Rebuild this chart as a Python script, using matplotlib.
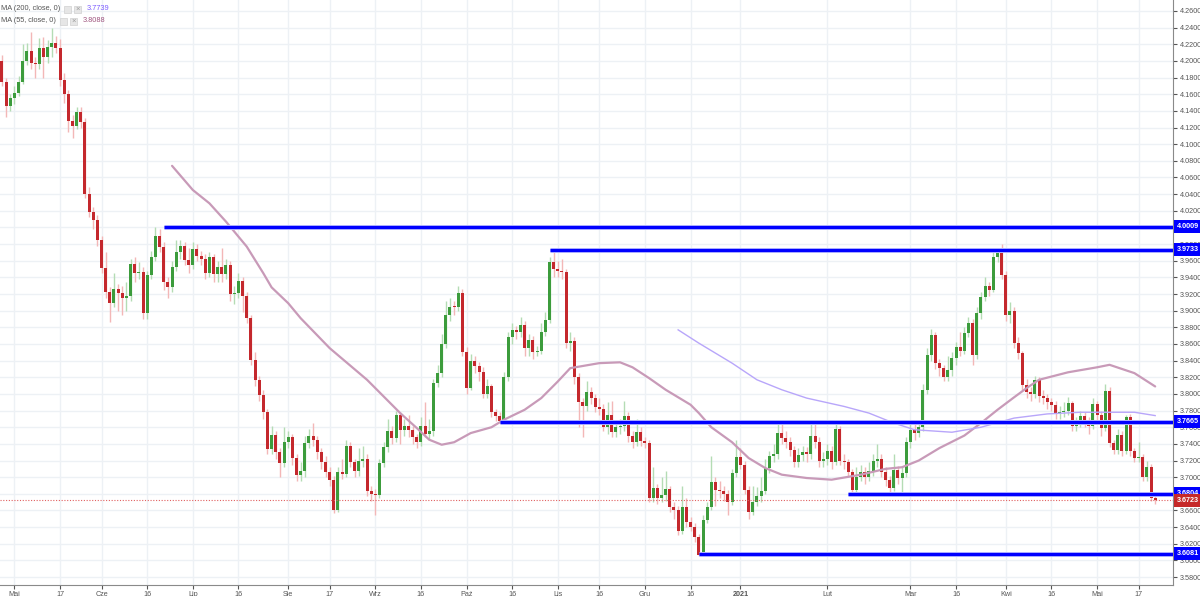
import matplotlib
matplotlib.use('Agg')
import matplotlib.pyplot as plt
import matplotlib.patches as mpatches
import numpy as np
import pandas as pd

plt.rcParams['font.family'] = ['Liberation Sans', 'DejaVu Sans']

# daily candles, USD/PLN-like
first_open = 4.200
closes = [
    4.175, 4.146, 4.155, 4.162, 4.175, 4.200, 4.212, 4.198, 4.196, 4.215,
    4.205, 4.217, 4.222, 4.215, 4.177, 4.160, 4.128, 4.122, 4.139, 4.127,
    4.040, 4.019, 4.009, 3.985, 3.951, 3.922, 3.909, 3.926, 3.921, 3.915,
    3.918, 3.956, 3.945, 3.947, 3.897, 3.943, 3.965, 3.990, 3.977, 3.935,
    3.929, 3.952, 3.970, 3.978, 3.961, 3.955, 3.974, 3.966, 3.962, 3.945,
    3.965, 3.944, 3.952, 3.944, 3.955, 3.920, 3.921, 3.936, 3.918, 3.891,
    3.841, 3.817, 3.799, 3.778, 3.734, 3.751, 3.730, 3.717, 3.742, 3.748,
    3.723, 3.703, 3.707, 3.741, 3.750, 3.745, 3.730, 3.718, 3.706, 3.697,
    3.661, 3.706, 3.704, 3.737, 3.718, 3.707, 3.720, 3.722, 3.683, 3.680,
    3.679, 3.717, 3.736, 3.756, 3.747, 3.775, 3.757, 3.762, 3.757, 3.748,
    3.742, 3.762, 3.752, 3.755, 3.813, 3.825, 3.860, 3.895, 3.905, 3.904,
    3.921, 3.850, 3.807, 3.840, 3.833, 3.826, 3.800, 3.809, 3.778, 3.774,
    3.768, 3.820, 3.868, 3.877, 3.874, 3.883, 3.855, 3.865, 3.850, 3.851,
    3.875, 3.889, 3.958, 3.950, 3.948, 3.947, 3.861, 3.864, 3.820, 3.790,
    3.785, 3.802, 3.795, 3.784, 3.782, 3.760, 3.775, 3.754, 3.760, 3.761,
    3.773, 3.749, 3.742, 3.754, 3.743, 3.741, 3.675, 3.687, 3.675, 3.679,
    3.686, 3.664, 3.660, 3.635, 3.664, 3.646, 3.640, 3.628, 3.607, 3.649,
    3.664, 3.694, 3.685, 3.683, 3.680, 3.670, 3.705, 3.724, 3.715, 3.685,
    3.658, 3.670, 3.678, 3.684, 3.711, 3.725, 3.728, 3.753, 3.747, 3.742,
    3.733, 3.718, 3.727, 3.730, 3.728, 3.750, 3.742, 3.720, 3.722, 3.732,
    3.718, 3.758, 3.720, 3.718, 3.706, 3.685, 3.700, 3.706, 3.700, 3.707,
    3.720, 3.722, 3.706, 3.697, 3.687, 3.709, 3.699, 3.705, 3.742, 3.757,
    3.753, 3.760, 3.805, 3.847, 3.871, 3.837, 3.831, 3.820, 3.829, 3.843,
    3.856, 3.852, 3.873, 3.885, 3.847, 3.897, 3.917, 3.930, 3.925, 3.964,
    3.969, 3.943, 3.895, 3.900, 3.861, 3.849, 3.811, 3.802, 3.800, 3.817,
    3.797, 3.795, 3.790, 3.787, 3.777, 3.778, 3.780, 3.789, 3.761, 3.765,
    3.774, 3.767, 3.761, 3.788, 3.775, 3.759, 3.804, 3.741, 3.733, 3.751,
    3.731, 3.772, 3.731, 3.723, 3.724, 3.700, 3.712, 3.675, 3.6723]
highs = [
    4.207, 4.180, 4.160, 4.170, 4.182, 4.220, 4.222, 4.235, 4.205, 4.228,
    4.229, 4.225, 4.240, 4.230, 4.226, 4.185, 4.165, 4.135, 4.145, 4.145,
    4.132, 4.048, 4.025, 4.015, 3.990, 3.970, 3.928, 3.945, 3.932, 3.930,
    3.935, 3.962, 3.965, 3.958, 3.952, 3.948, 3.972, 4.000, 3.998, 3.982,
    3.940, 3.960, 3.985, 3.985, 3.982, 3.975, 3.982, 3.980, 3.972, 3.968,
    3.970, 3.968, 3.960, 3.975, 3.962, 3.960, 3.930, 3.945, 3.940, 3.922,
    3.895, 3.850, 3.822, 3.805, 3.782, 3.762, 3.755, 3.735, 3.760, 3.755,
    3.752, 3.728, 3.718, 3.750, 3.758, 3.765, 3.750, 3.735, 3.725, 3.712,
    3.702, 3.712, 3.722, 3.745, 3.742, 3.722, 3.735, 3.738, 3.728, 3.690,
    3.686, 3.722, 3.742, 3.770, 3.762, 3.780, 3.778, 3.770, 3.775, 3.762,
    3.752, 3.772, 3.790, 3.770, 3.818, 3.835, 3.872, 3.912, 3.915, 3.912,
    3.930, 3.926, 3.856, 3.848, 3.845, 3.838, 3.832, 3.818, 3.812, 3.782,
    3.778, 3.826, 3.875, 3.885, 3.882, 3.892, 3.888, 3.872, 3.870, 3.858,
    3.885, 3.898, 3.965, 3.973, 3.960, 3.962, 3.950, 3.875, 3.868, 3.825,
    3.795, 3.815, 3.808, 3.800, 3.795, 3.788, 3.790, 3.792, 3.768, 3.770,
    3.792, 3.778, 3.755, 3.770, 3.760, 3.748, 3.745, 3.712, 3.692, 3.700,
    3.708, 3.690, 3.670, 3.665, 3.690, 3.675, 3.652, 3.645, 3.632, 3.655,
    3.670, 3.725, 3.700, 3.695, 3.690, 3.685, 3.710, 3.745, 3.735, 3.720,
    3.690, 3.690, 3.688, 3.700, 3.722, 3.732, 3.740, 3.765, 3.768, 3.755,
    3.748, 3.738, 3.735, 3.738, 3.736, 3.768, 3.768, 3.748, 3.730, 3.740,
    3.737, 3.768, 3.762, 3.728, 3.722, 3.710, 3.712, 3.715, 3.712, 3.718,
    3.728, 3.740, 3.728, 3.712, 3.702, 3.728, 3.714, 3.712, 3.748, 3.768,
    3.765, 3.768, 3.812, 3.855, 3.878, 3.875, 3.842, 3.835, 3.845, 3.850,
    3.862, 3.875, 3.880, 3.892, 3.890, 3.905, 3.922, 3.940, 3.935, 3.970,
    3.975, 3.980, 3.948, 3.910, 3.905, 3.868, 3.852, 3.818, 3.808, 3.822,
    3.820, 3.805, 3.800, 3.795, 3.792, 3.785, 3.790, 3.796, 3.792, 3.772,
    3.780, 3.778, 3.772, 3.795, 3.792, 3.780, 3.812, 3.808, 3.745, 3.758,
    3.755, 3.775, 3.776, 3.735, 3.742, 3.728, 3.720, 3.716, 3.678]
lows = [
    4.170, 4.133, 4.140, 4.148, 4.158, 4.172, 4.195, 4.190, 4.180, 4.190,
    4.180, 4.198, 4.205, 4.210, 4.170, 4.150, 4.115, 4.108, 4.118, 4.120,
    4.035, 4.012, 3.998, 3.978, 3.945, 3.915, 3.886, 3.905, 3.900, 3.895,
    3.900, 3.912, 3.935, 3.938, 3.890, 3.890, 3.938, 3.960, 3.970, 3.925,
    3.915, 3.922, 3.948, 3.962, 3.955, 3.945, 3.950, 3.960, 3.955, 3.938,
    3.940, 3.935, 3.935, 3.935, 3.938, 3.912, 3.908, 3.915, 3.898, 3.885,
    3.835, 3.810, 3.792, 3.770, 3.728, 3.728, 3.722, 3.700, 3.712, 3.735,
    3.715, 3.695, 3.695, 3.700, 3.735, 3.738, 3.722, 3.710, 3.700, 3.690,
    3.657, 3.658, 3.698, 3.700, 3.712, 3.700, 3.702, 3.712, 3.678, 3.672,
    3.655, 3.675, 3.712, 3.730, 3.740, 3.742, 3.740, 3.750, 3.748, 3.740,
    3.735, 3.738, 3.748, 3.745, 3.750, 3.808, 3.820, 3.855, 3.888, 3.895,
    3.900, 3.845, 3.800, 3.805, 3.825, 3.815, 3.795, 3.795, 3.772, 3.768,
    3.765, 3.766, 3.815, 3.860, 3.866, 3.868, 3.845, 3.846, 3.842, 3.845,
    3.848, 3.870, 3.885, 3.940, 3.940, 3.938, 3.855, 3.852, 3.812, 3.760,
    3.748, 3.780, 3.788, 3.778, 3.775, 3.755, 3.752, 3.748, 3.748, 3.752,
    3.755, 3.742, 3.735, 3.738, 3.738, 3.735, 3.670, 3.670, 3.668, 3.670,
    3.672, 3.658, 3.650, 3.630, 3.632, 3.640, 3.635, 3.622, 3.605, 3.606,
    3.645, 3.660, 3.665, 3.675, 3.672, 3.655, 3.666, 3.700, 3.710, 3.680,
    3.650, 3.655, 3.665, 3.670, 3.680, 3.705, 3.718, 3.722, 3.740, 3.735,
    3.725, 3.712, 3.712, 3.720, 3.718, 3.722, 3.735, 3.712, 3.712, 3.715,
    3.710, 3.715, 3.715, 3.710, 3.700, 3.680, 3.682, 3.695, 3.692, 3.695,
    3.702, 3.712, 3.700, 3.690, 3.682, 3.684, 3.692, 3.680, 3.700, 3.735,
    3.745, 3.748, 3.756, 3.800, 3.840, 3.830, 3.822, 3.815, 3.815, 3.822,
    3.835, 3.845, 3.848, 3.868, 3.835, 3.842, 3.890, 3.912, 3.918, 3.922,
    3.958, 3.938, 3.888, 3.885, 3.855, 3.842, 3.805, 3.795, 3.792, 3.795,
    3.790, 3.788, 3.782, 3.780, 3.770, 3.770, 3.772, 3.775, 3.755, 3.755,
    3.760, 3.760, 3.752, 3.758, 3.768, 3.750, 3.755, 3.736, 3.728, 3.728,
    3.725, 3.728, 3.725, 3.718, 3.718, 3.695, 3.696, 3.671, 3.668]

# moving averages (bar number, value)
ma55_bar = [41, 46, 50, 54, 59, 63, 65, 69, 72, 79,
            88, 94, 96, 100, 103, 106, 109, 113, 118, 121,
            126, 130, 134, 137, 144, 149, 152, 156, 160, 166,
            168, 171, 176, 180, 184, 188, 194, 200, 207, 213,
            217, 221, 226, 232, 236, 240, 244, 247, 250, 257,
            264, 267, 273, 278]
ma55_val = [4.074, 4.045, 4.029, 4.007, 3.977, 3.945, 3.928, 3.909, 3.891, 3.855,
            3.817, 3.787, 3.777, 3.759, 3.745, 3.739, 3.742, 3.753, 3.760, 3.769,
            3.781, 3.795, 3.815, 3.831, 3.837, 3.838, 3.832, 3.819, 3.805, 3.787,
            3.777, 3.760, 3.742, 3.723, 3.711, 3.703, 3.699, 3.697, 3.703, 3.710,
            3.712, 3.720, 3.735, 3.750, 3.765, 3.781, 3.796, 3.807, 3.817, 3.826,
            3.832, 3.835, 3.825, 3.809]
ma200_bar = [163, 168, 176, 182, 188, 194, 203, 209, 215, 220,
             229, 236, 244, 252, 260, 268, 273, 278]
ma200_val = [3.877, 3.861, 3.837, 3.817, 3.805, 3.795, 3.785, 3.777, 3.765, 3.757,
             3.754, 3.760, 3.771, 3.776, 3.778, 3.778, 3.778, 3.774]

levels = [4.0009, 3.9733, 3.7665, 3.6804, 3.6081]
level_start = ['2020-06-22', '2020-10-29', '2020-10-13', '2021-02-08', '2020-12-18']
last_price = 3.6723

tick_dates = ['2020-05-01', '2020-05-18', '2020-06-01', '2020-06-16', '2020-07-01',
              '2020-07-16', '2020-08-03', '2020-08-17', '2020-09-01', '2020-09-16',
              '2020-10-01', '2020-10-16', '2020-11-02', '2020-11-16', '2020-12-01',
              '2020-12-16', '2021-01-01', '2021-02-01', '2021-03-01', '2021-03-16',
              '2021-04-01', '2021-04-16', '2021-05-03', '2021-05-17']
tick_labels = ['Maj', '17', 'Cze', '16', 'Lip', '16', 'Sie', '17', 'Wrz', '16',
               'Paź', '16', 'Lis', '16', 'Gru', '16', '2021', 'Lut', 'Mar', '16',
               'Kwi', '16', 'Maj', '17']

closes = np.array(closes)
highs = np.array(highs)
lows = np.array(lows)
opens = np.r_[first_open, closes[:-1]]
n = len(closes)
x = np.arange(n)
dates = pd.bdate_range('2020-04-28', periods=n)
tick_pos = dates.searchsorted(pd.to_datetime(tick_dates))
start_pos = dates.searchsorted(pd.to_datetime(level_start))

W, H = 1200, 596
fig = plt.figure(figsize=(W / 100, H / 100), dpi=100)
ax = fig.add_axes([0, 11 / H, 1173 / W, 585 / H])
xmin, xmax = -0.48, 282.3
ax.set_xlim(xmin, xmax)
ax.set_ylim(3.5705, 4.2732)

grid_c = '#edf1f5'
yt_vals = np.arange(3.58, 4.2601, 0.02)
# labels fully hidden behind a price box are left blank
covered = [min(abs(v - lv) for lv in levels) < 0.005 for v in yt_vals]
ax.set_yticks(yt_vals)
ax.set_yticklabels(['' if c else '%.4f' % v for v, c in zip(yt_vals, covered)])
ax.set_xticks(tick_pos)
ax.set_xticklabels(tick_labels)
ax.grid(True, color=grid_c, lw=1)
ax.set_axisbelow(True)

for s in ['top', 'left']:
    ax.spines[s].set_visible(False)
for s in ['right', 'bottom']:
    ax.spines[s].set_color('#8a8a8a')
ax.yaxis.tick_right()
ax.tick_params(axis='y', labelsize=5.2, colors='#555555', length=3, pad=2, width=0.8)
ax.tick_params(axis='x', labelsize=5.2, colors='#555555', length=3, pad=1.5, width=0.8)
for t in ax.get_xticklabels():
    if t.get_text() == '2021':
        t.set_fontweight('bold')

# candles
up = closes >= opens
body_lo = np.minimum(opens, closes)
body_h = np.maximum(np.abs(closes - opens), 0.0012)
ax.vlines(x[up], lows[up], highs[up], color='#b4dcb4', lw=1, zorder=2)
ax.vlines(x[~up], lows[~up], highs[~up], color='#f3b7b7', lw=1, zorder=2)
ax.bar(x[up], body_h[up], bottom=body_lo[up], width=0.72, color='#3c9c3c', lw=0, zorder=3)
ax.bar(x[~up], body_h[~up], bottom=body_lo[~up], width=0.72, color='#c4282d', lw=0, zorder=3)

# moving averages
ax.plot(ma55_bar, ma55_val, color='#c89ab8', lw=1.6, zorder=4, solid_capstyle='round')
ax.plot(ma200_bar, ma200_val, color='#b8a6fa', lw=1, zorder=4)

# last price
ax.axhline(last_price, color='#e06060', lw=0.8, ls=(0, (1, 1.5)), zorder=4)

# horizontal levels
for lv, sp in zip(levels, start_pos):
    ax.hlines(lv, sp, xmax, color='#aeb0ff', lw=3.6, zorder=5)
    ax.hlines(lv, sp, xmax, color='#0000ff', lw=2.2, zorder=6)

# price boxes on the right axis
yt = ax.get_yaxis_transform()
box_x = 1.0 + 4 / 1173
for lv in levels:
    ax.text(box_x, lv, '%.4f' % lv, transform=yt, ha='left', va='center',
            fontsize=5.2, color='white', fontweight='bold', clip_on=False, zorder=10,
            bbox=dict(boxstyle='square,pad=0.42', fc='#0000ff', ec='none'))
ax.text(box_x, last_price, '%.4f' % last_price, transform=yt, ha='left',
        va='center', fontsize=5.2, color='white', fontweight='bold', clip_on=False,
        zorder=10, bbox=dict(boxstyle='square,pad=0.42', fc='#c62828', ec='none'))

# indicator legend, top left
def px(xp, yp):
    return xp / W, 1 - yp / H

fig.text(*px(1, 9), 'MA (200, close, 0)', fontsize=5.3, color='#555555', va='center')
fig.text(*px(87, 9), '3.7739', fontsize=5.3, color='#7b5cff', va='center')
fig.text(*px(1, 21), 'MA (55, close, 0)', fontsize=5.3, color='#555555', va='center')
fig.text(*px(83, 21), '3.8088', fontsize=5.3, color='#a0557f', va='center')
for bx, by in [(64, 9), (74, 9), (60, 21), (70, 21)]:
    fig.patches.append(mpatches.Rectangle(px(bx, by + 3.5), 7 / W, 7 / H,
                                          transform=fig.transFigure, fc='#e6e6e6',
                                          ec='#d0d0d0', lw=0.5))
for bx, by in [(74, 9), (70, 21)]:
    fig.text(*px(bx + 3.5, by), '×', fontsize=5.5, color='#9a9a9a', ha='center', va='center')

fig.savefig('out.png', dpi=100)
